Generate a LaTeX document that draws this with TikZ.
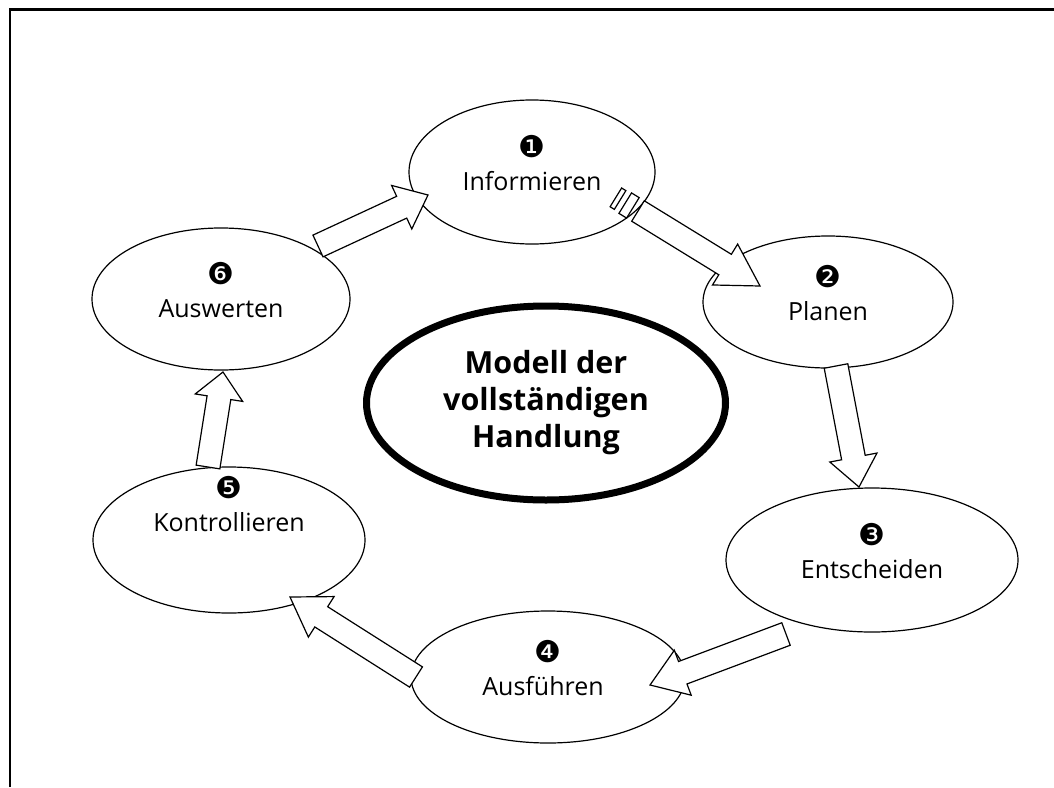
\documentclass[tikz,border=0pt]{standalone}
\usepackage{fontspec}
\setmainfont{Open Sans}
\newfontfamily\numfont{DejaVu Sans}
\usepackage{tikz}
\usetikzlibrary{positioning,calc,shapes.geometric}

% block arrow from #2 to #3, #1 = head length
\newcommand{\blockarrow}[3][32pt]{%
  \coordinate (ba-s) at #2;
  \coordinate (ba-e) at #3;
  \coordinate (ba-h) at ($(ba-e)!#1!(ba-s)$);
  \draw[barrow] ($(ba-s)!12pt!90:(ba-e)$) -- ($(ba-h)!12pt!90:(ba-e)$)
    -- ($(ba-h)!24pt!90:(ba-e)$) -- (ba-e) -- ($(ba-h)!24pt!-90:(ba-e)$)
    -- ($(ba-h)!12pt!-90:(ba-e)$) -- ($(ba-s)!12pt!-90:(ba-e)$) -- cycle;}

\begin{document}
\begin{tikzpicture}[x=1pt,y=-1pt,
  stage/.style={draw,ellipse,line width=1.2pt,inner sep=0pt},
  core/.style={draw,ellipse,line width=7pt,inner sep=0pt,minimum width=359pt,minimum height=194pt},
  lbl/.style={anchor=base,font=\fontsize{25}{30}\selectfont},
  num/.style={font=\numfont\fontsize{30}{34}\selectfont},
  barrow/.style={draw,line width=1.2pt,fill=white,line join=miter}]
\useasboundingbox (0,0) rectangle (1054,787);
\draw[line width=2.5pt] (10,787) -- (10,9.5) -- (1054,9.5);

% the six steps
\node[stage,minimum width=246pt,minimum height=144pt] (e1) at (532,172) {};
\node[stage,minimum width=250pt,minimum height=132pt] (e2) at (828,302) {};
\node[stage,minimum width=292pt,minimum height=144pt] (e3) at (872,560) {};
\node[stage,minimum width=274pt,minimum height=132pt] (e4) at (548,677) {};
\node[stage,minimum width=272pt,minimum height=146pt] (e5) at (229,540) {};
\node[stage,minimum width=258pt,minimum height=142pt] (e6) at (221,299) {};

% centre
\node[core] (mid) at (546,403) {};
\node[align=center,font=\bfseries\fontsize{30.5}{37}\selectfont] (title) at (mid) {Modell der\\vollständigen\\Handlung};

% arrows
\blockarrow[41pt]{($(e1)+(106,39)$)}{($(e2)+(-68,-16)$)}
\blockarrow[30pt]{($(e2)+(8,64)$)}{($(e3)+(-13,-73)$)}
\blockarrow[35pt]{($(e3)+(-86,74)$)}{($(e4)+(102,8)$)}
\blockarrow[37pt]{($(e4)+(-132,0)$)}{($(e5)+(61,57)$)}
\blockarrow[26pt]{($(e5)+(-21,-73)$)}{($(e6)+(2,73)$)}
\blockarrow[29pt]{($(e6)+(97,-53)$)}{($(e1)+(-104,23)$)}

% cut marks behind the first arrow
\coordinate (cut) at ($(e1)+(106,39)$);
\begin{scope}[shift={(cut)},rotate=-31.6]
\draw[barrow] (-15,-12) -- (-6,-12) -- (-6,12) -- (-15,12) -- cycle;
\draw[barrow] (-26,-11) -- (-21,-11) -- (-21,11) -- (-26,11) -- cycle;
\end{scope}

% numbers and names
\node[num] (n1) at ([yshift=25pt]e1.center) {❶};
\node[lbl] (l1) at ([yshift=-18pt]e1.center) {Informieren};
\node[num] (n2) at ([yshift=25pt]e2.center) {❷};
\node[lbl] (l2) at ([yshift=-18pt]e2.center) {Planen};
\node[num] (n3) at ([yshift=25pt]e3.center) {❸};
\node[lbl] (l3) at ([yshift=-18pt]e3.center) {Entscheiden};
\node[num] (n4) at ([yshift=25pt]e4.center) {❹};
\node[lbl] (l4) at ([shift={(-5pt,-18pt)}]e4.center) {Ausführen};
\node[num] (n5) at ([yshift=52pt]e5.center) {❺};
\node[lbl] (l5) at ([yshift=9pt]e5.center) {Kontrollieren};
\node[num] (n6) at ([yshift=25pt]e6.center) {❻};
\node[lbl] (l6) at ([yshift=-18pt]e6.center) {Auswerten};
\end{tikzpicture}
\end{document}
